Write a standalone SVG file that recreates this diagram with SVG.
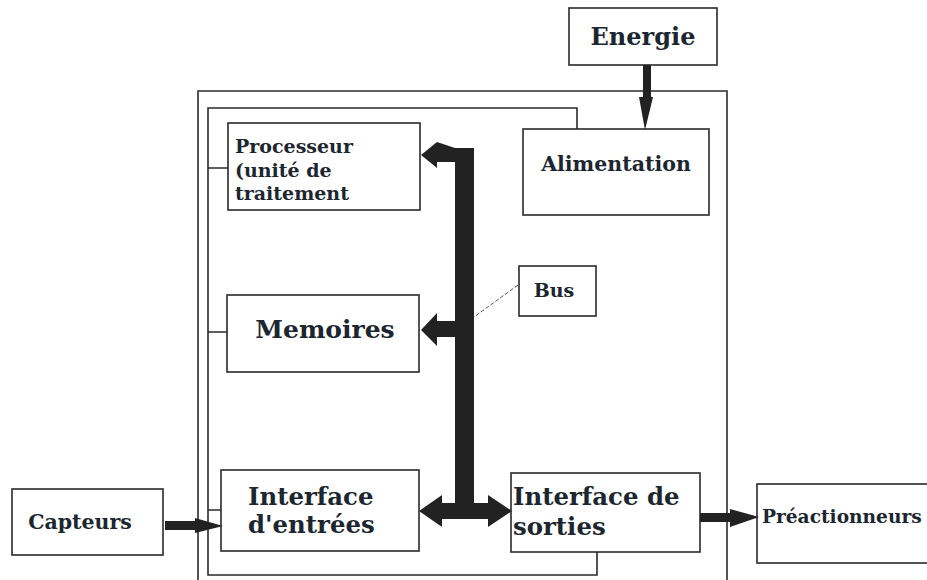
<svg xmlns="http://www.w3.org/2000/svg" width="927" height="580" viewBox="0 0 927 580">
<style>
.box{fill:#fff;stroke:#2a2a2a;stroke-width:1.6}
.ln{fill:none;stroke:#2a2a2a;stroke-width:1.6}
.arr{fill:#222;stroke:none}
text{font-family:"DejaVu Serif","Liberation Serif",serif;font-weight:bold;fill:#1c2630}
</style>
<rect width="927" height="580" fill="#fff"/>
<g id="frame">
<path class="ln" d="M198,582 V91 H727 V582"/>
<path class="ln" d="M577,129 V108 H208 V575 H597 V552"/>
<path class="ln" d="M208,168 H228 M208,332 H227 M208,510 H221"/>
</g>
<g id="energie"><rect class="box" x="569" y="8" width="148" height="57"/><text x="643" y="45" font-size="24" text-anchor="middle">Energie</text></g>
<g id="alimentation"><rect class="box" x="523" y="129" width="186" height="86"/><text x="616" y="171" font-size="20.5" text-anchor="middle">Alimentation</text></g>
<g id="processeur"><rect class="box" x="228" y="123" width="192" height="87"/><text font-size="19"><tspan x="235" y="153">Processeur</tspan><tspan x="235" y="177">(unité de</tspan><tspan x="235" y="200">traitement</tspan></text></g>
<g id="bus"><rect class="box" x="519" y="266" width="77" height="50"/><text x="554" y="297" font-size="19" text-anchor="middle">Bus</text></g>
<g id="memoires"><rect class="box" x="227" y="295" width="192" height="77"/><text x="325" y="338" font-size="25" text-anchor="middle">Memoires</text></g>
<g id="entrees"><rect class="box" x="221" y="470" width="198" height="81"/><text font-size="24.4"><tspan x="248" y="505">Interface</tspan><tspan x="248" y="533">d'entrées</tspan></text></g>
<g id="sorties"><rect class="box" x="511" y="473" width="189" height="79"/><text font-size="24.4"><tspan x="513" y="505">Interface de</tspan><tspan x="513" y="535">sorties</tspan></text></g>
<g id="capteurs"><rect class="box" x="12" y="489" width="151" height="66"/><text x="80" y="529" font-size="20.5" text-anchor="middle">Capteurs</text></g>
<g id="preactionneurs"><rect class="box" x="757" y="484" width="180" height="79"/><text x="762" y="523" font-size="18.6">Préactionneurs</text></g>
<g id="connectors">
<path class="arr" d="M643,65 H651 V97 H653 L645,130 L639,97 H643 Z"/>
<path class="arr" d="M455,148 H474 V503 H488 V495 L512,511 L488,527 V519 H442 V527 L419,511 L442,495 V503 H455 V337 H437 V346 L421,330 L437,313 V321 H455 V162 H437 V168 L421,155 L437,142 Z"/>
<path d="M518,285 L474,317" fill="none" stroke="#555" stroke-width="1" stroke-dasharray="4,2"/>
<path class="arr" d="M165,521 H195 V518 L223,526 L195,533 V530 H165 Z"/>
<path class="arr" d="M700,513 H730 V509 L759,517 L730,527 V522 H700 Z"/>
</g>
</svg>
